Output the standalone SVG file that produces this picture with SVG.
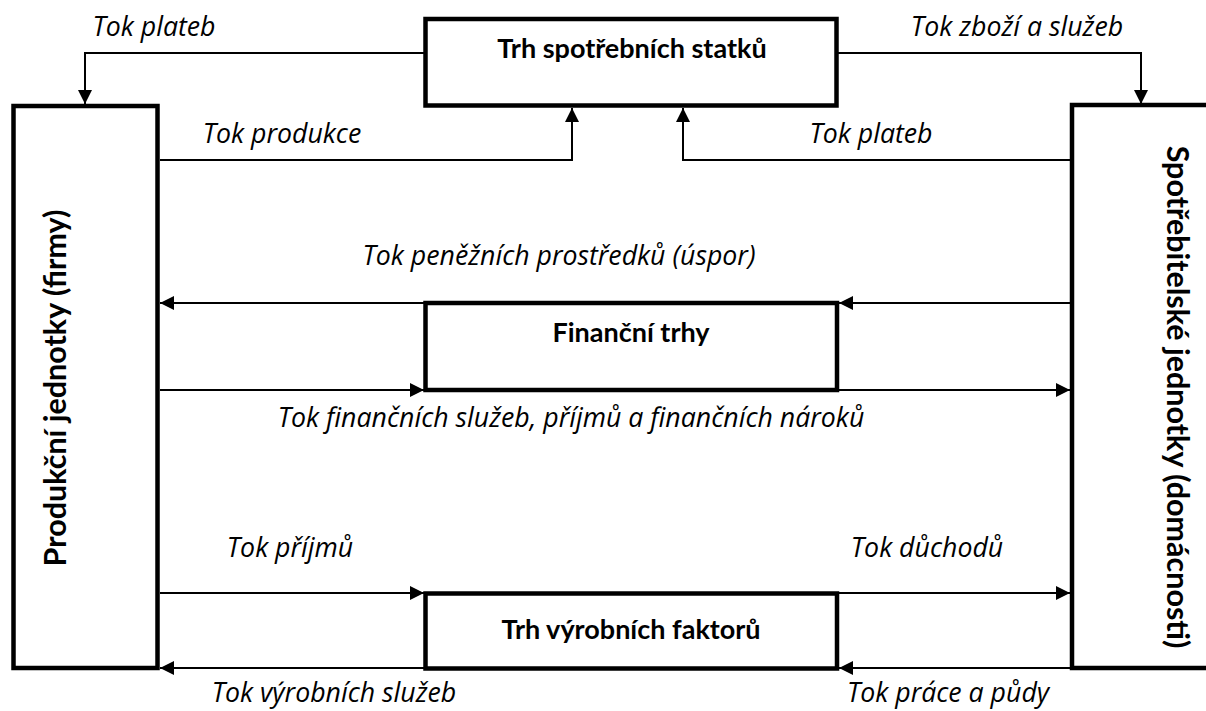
<svg xmlns="http://www.w3.org/2000/svg" width="1206" height="711" viewBox="0 0 1206 711">
<style>
.box{fill:#fff;stroke:#000;stroke-width:4.5}
.con{fill:none;stroke:#000;stroke-width:2}
.title{font-family:Lato,"Open Sans","DejaVu Sans",sans-serif;font-weight:bold;font-size:27px;fill:#000;text-anchor:middle}
.vt{font-size:30.5px}
.lbl{font-family:"Open Sans",Lato,"DejaVu Sans",sans-serif;font-style:italic;font-size:26.7px;fill:#000;text-anchor:middle}
</style>
<defs>
<marker id="ah" markerUnits="userSpaceOnUse" markerWidth="15" markerHeight="15" refX="14" refY="7" orient="auto" viewBox="0 0 15 15">
<path d="M0,0 L14,7 L0,14 z" fill="#000"/>
</marker>
</defs>
<rect width="1206" height="711" fill="#fff"/>
<g id="connectors">
<path class="con" d="M425,53 H85 V104" marker-end="url(#ah)"/>
<path class="con" d="M160,160 H572 V108" marker-end="url(#ah)"/>
<path class="con" d="M1070,160 H683 V108" marker-end="url(#ah)"/>
<path class="con" d="M838,53 H1141 V104" marker-end="url(#ah)"/>
<path class="con" d="M1070,303 H839" marker-end="url(#ah)"/>
<path class="con" d="M425,303 H160" marker-end="url(#ah)"/>
<path class="con" d="M160,390 H424" marker-end="url(#ah)"/>
<path class="con" d="M838,390 H1070" marker-end="url(#ah)"/>
<path class="con" d="M160,593 H424" marker-end="url(#ah)"/>
<path class="con" d="M838,593 H1070" marker-end="url(#ah)"/>
<path class="con" d="M425,668 H160" marker-end="url(#ah)"/>
<path class="con" d="M1070,668 H839" marker-end="url(#ah)"/>
<text class="lbl" x="154" y="36">Tok plateb</text>
<text class="lbl" x="1017" y="36">Tok zboží a služeb</text>
<text class="lbl" x="282" y="143">Tok produkce</text>
<text class="lbl" x="871" y="143">Tok plateb</text>
<text class="lbl" x="559" y="265">Tok peněžních prostředků (úspor)</text>
<text class="lbl" x="571" y="427">Tok finančních služeb, příjmů a finančních nároků</text>
<text class="lbl" x="290" y="557">Tok příjmů</text>
<text class="lbl" x="927" y="557">Tok důchodů</text>
<text class="lbl" x="334" y="702">Tok výrobních služeb</text>
<text class="lbl" x="948" y="702">Tok práce a půdy</text>
</g>
<g id="firms">
<rect class="box" x="13.5" y="106" width="144" height="562"/>
<text class="title vt" transform="translate(66,388) rotate(-90)">Produkční jednotky (firmy)</text>
</g>
<g id="households">
<rect class="box" x="1072" y="105" width="150" height="563"/>
<text class="title vt" transform="translate(1167,397) rotate(90)">Spotřebitelské jednotky (domácnosti)</text>
</g>
<g id="consumer-market">
<rect class="box" x="425.5" y="19" width="411" height="86.5"/>
<text class="title" x="632" y="58">Trh spotřebních statků</text>
</g>
<g id="financial-market">
<rect class="box" x="425.5" y="303" width="411.5" height="87"/>
<text class="title" x="631" y="342">Finanční trhy</text>
</g>
<g id="factor-market">
<rect class="box" x="425.5" y="593.5" width="411.5" height="75"/>
<text class="title" x="631" y="639">Trh výrobních faktorů</text>
</g>
</svg>
